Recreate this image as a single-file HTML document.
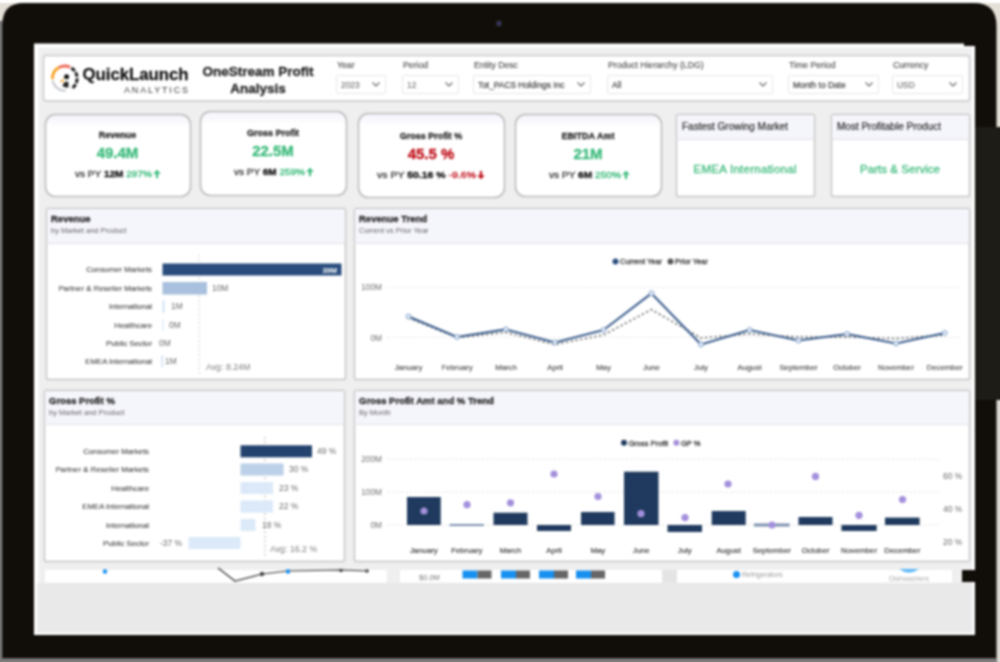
<!DOCTYPE html>
<html><head><meta charset="utf-8"><title>OneStream Profit Analysis</title>
<style>
html,body{margin:0;padding:0;background:#fff;}
body{width:1000px;height:662px;overflow:hidden;font-family:"Liberation Sans",sans-serif;}
svg{display:block;font-family:"Liberation Sans",sans-serif;}
text{font-family:"Liberation Sans",sans-serif;}
</style></head><body>
<svg width="1000" height="662" viewBox="0 0 1000 662">
<defs>
<filter id="b1" x="-5%" y="-5%" width="110%" height="110%"><feGaussianBlur stdDeviation="0.7"/></filter>
<filter id="b2" x="-5%" y="-5%" width="110%" height="110%"><feGaussianBlur stdDeviation="1.0"/></filter>
<linearGradient id="cg" x1="0" y1="0" x2="0" y2="1"><stop offset="0" stop-color="#f3f3fb"/><stop offset="0.16" stop-color="#ffffff"/><stop offset="1" stop-color="#ffffff"/></linearGradient>
</defs>

<rect x="0" y="0" width="1000" height="662" fill="#ffffff"/>
<g style="filter:blur(0.9px)">
<rect x="-5" y="3" width="45" height="40" fill="#e4e0d8"/>
<rect x="960" y="3" width="45" height="130" fill="#e4e0d8"/>
<rect x="996" y="395" width="10" height="270" fill="#dcd9d3"/>
<rect x="-5" y="21" width="8" height="645" fill="#7a7a7a"/>
<rect x="-5" y="658.5" width="1002" height="10" fill="#7c7c7c"/>
<path d="M2.3 658.5 L2.3 25 Q2.3 3 24 3 L974 3 Q996.5 3 996.5 26 L996.5 658.5 Z" fill="#110d08"/>
<rect x="975" y="127" width="30" height="273" fill="#1e1c17"/>
<circle cx="499" cy="23.5" r="3.2" fill="#2b2a2c"/><circle cx="499" cy="23.5" r="1.3" fill="#3b3fb0"/>
<rect x="34" y="43.5" width="941" height="591.5" fill="#ffffff"/>
<rect x="38.5" y="47.5" width="933.5" height="585" fill="#efefef"/>
<rect x="37" y="583" width="935.5" height="49.5" fill="#e9e9e9"/>
<rect x="962" y="570" width="14" height="12" fill="#110d08"/>
<rect x="964" y="40" width="13" height="6" fill="#110d08"/>
</g>
<g style="filter:blur(0.8px)">
<rect x="43.5" y="55.5" width="926" height="45.5" rx="3" fill="#ffffff" stroke="#c8c8c8" stroke-width="1.4"/>
<g transform="translate(64.8,78.3)">
<path d="M-12.3 0.8 A12.3 12.3 0 0 1 -5.6 -10.95" fill="none" stroke="#f7a325" stroke-width="2.9"/>
<path d="M-5.6 -10.95 A12.3 12.3 0 0 1 5.3 -11.1" fill="none" stroke="#ee6a5c" stroke-width="2.9"/>
<path d="M6.6 -10.4 A12.3 12.3 0 0 1 6.6 10.4" fill="none" stroke="#1c1c1c" stroke-width="3" stroke-dasharray="4.6 1.5"/>
<path d="M-12.2 2.2 A12.3 12.3 0 0 0 1 12.3" fill="none" stroke="#c4c8cc" stroke-width="2"/>
<circle cx="1.8" cy="-1.6" r="2.5" fill="#111"/><path d="M-2.5 7.5 Q0 2 3.5 3.5 L3.8 9 Q0 10 -2.5 7.5 Z" fill="#222"/><path d="M-5.5 3.5 L-0.8 0.2 L-1.5 3.8 Z" fill="#f7a325"/>
</g>
<text x="82.5" y="80.4" font-size="16.4" font-weight="bold" fill="#141414" stroke="#141414" stroke-width="0.3" textLength="106" lengthAdjust="spacingAndGlyphs">QuickLaunch</text>
<text x="124" y="92.6" font-size="9" fill="#3a3a3a" stroke="none" textLength="64" lengthAdjust="spacing">ANALYTICS</text>
<text x="258" y="76" font-size="13.5" font-weight="bold" fill="#2b2b2b" text-anchor="middle" stroke="#2b2b2b" stroke-width="0.35">OneStream Profit</text>
<text x="258" y="93" font-size="13.5" font-weight="bold" fill="#2b2b2b" text-anchor="middle" stroke="#2b2b2b" stroke-width="0.35">Analysis</text>
<text x="337" y="68" font-size="8.7" fill="#4a4a4a" stroke="#4a4a4a" stroke-width="0.12">Year</text>
<rect x="336.5" y="75.5" width="49" height="18" rx="1" fill="#fff" stroke="#e6e6e6"/>
<text x="341" y="87.7" font-size="8.4" fill="#777" stroke="#777" stroke-width="0.15">2023</text>
<path d="M372.5 82.5 L376 86 L379.5 82.5" fill="none" stroke="#666" stroke-width="1.1"/>
<text x="403" y="68" font-size="8.7" fill="#4a4a4a" stroke="#4a4a4a" stroke-width="0.12">Period</text>
<rect x="402.5" y="75.5" width="56" height="18" rx="1" fill="#fff" stroke="#e6e6e6"/>
<text x="407" y="87.7" font-size="8.4" fill="#777" stroke="#777" stroke-width="0.15">12</text>
<path d="M445.5 82.5 L449 86 L452.5 82.5" fill="none" stroke="#666" stroke-width="1.1"/>
<text x="474" y="68" font-size="8.7" fill="#4a4a4a" stroke="#4a4a4a" stroke-width="0.12">Entity Desc</text>
<rect x="473.5" y="75.5" width="117" height="18" rx="1" fill="#fff" stroke="#e6e6e6"/>
<text x="478" y="87.7" font-size="8.4" fill="#333" stroke="#333" stroke-width="0.15">Tot_PACS Holdings Inc</text>
<path d="M577.5 82.5 L581 86 L584.5 82.5" fill="none" stroke="#666" stroke-width="1.1"/>
<text x="608" y="68" font-size="8.7" fill="#4a4a4a" stroke="#4a4a4a" stroke-width="0.12">Product Hierarchy (LDG)</text>
<rect x="607.5" y="75.5" width="165" height="18" rx="1" fill="#fff" stroke="#e6e6e6"/>
<text x="612" y="87.7" font-size="8.4" fill="#333" stroke="#333" stroke-width="0.15">All</text>
<path d="M759.5 82.5 L763 86 L766.5 82.5" fill="none" stroke="#666" stroke-width="1.1"/>
<text x="789" y="68" font-size="8.7" fill="#4a4a4a" stroke="#4a4a4a" stroke-width="0.12">Time Period</text>
<rect x="788.5" y="75.5" width="90" height="18" rx="1" fill="#fff" stroke="#e6e6e6"/>
<text x="793" y="87.7" font-size="8.4" fill="#333" stroke="#333" stroke-width="0.15">Month to Date</text>
<path d="M865.5 82.5 L869 86 L872.5 82.5" fill="none" stroke="#666" stroke-width="1.1"/>
<text x="893" y="68" font-size="8.7" fill="#4a4a4a" stroke="#4a4a4a" stroke-width="0.12">Currency</text>
<rect x="892.5" y="75.5" width="70" height="18" rx="1" fill="#fff" stroke="#e6e6e6"/>
<text x="897" y="87.7" font-size="8.4" fill="#777" stroke="#777" stroke-width="0.15">USD</text>
<path d="M949.5 82.5 L953 86 L956.5 82.5" fill="none" stroke="#666" stroke-width="1.1"/>
<rect x="45.5" y="114.5" width="145" height="82" rx="10" fill="url(#cg)" stroke="#bcbcbc" stroke-width="1.6"/>
<text x="117.5" y="138" font-size="9" font-weight="bold" fill="#2e2e2e" text-anchor="middle" stroke="#2e2e2e" stroke-width="0.35">Revenue</text>
<text x="117.5" y="157.5" font-size="15" font-weight="bold" fill="#3dbb7d" text-anchor="middle" stroke="#3dbb7d" stroke-width="0.35">49.4M</text>
<text x="152" y="177" font-size="8.6" fill="#444" text-anchor="end" textLength="77" lengthAdjust="spacingAndGlyphs" stroke="#444" stroke-width="0.35">vs PY <tspan font-weight="bold" fill="#161616" stroke="#161616" stroke-width="0.35">12M</tspan> <tspan fill="#3dbb7d" stroke="#3dbb7d" stroke-width="0.35">297%</tspan></text>
<path d="M157 169.8 L160.8 173.8 L158.1 173.8 L158.1 178 L155.9 178 L155.9 173.8 L153.2 173.8 Z" fill="#3dbb7d"/>
<rect x="200.5" y="111.5" width="146" height="84" rx="10" fill="url(#cg)" stroke="#bcbcbc" stroke-width="1.6"/>
<text x="273.0" y="136" font-size="9" font-weight="bold" fill="#2e2e2e" text-anchor="middle" stroke="#2e2e2e" stroke-width="0.35">Gross Profit</text>
<text x="273.0" y="155.5" font-size="15" font-weight="bold" fill="#3dbb7d" text-anchor="middle" stroke="#3dbb7d" stroke-width="0.35">22.5M</text>
<text x="305" y="175" font-size="8.6" fill="#444" text-anchor="end" textLength="71" lengthAdjust="spacingAndGlyphs" stroke="#444" stroke-width="0.35">vs PY <tspan font-weight="bold" fill="#161616" stroke="#161616" stroke-width="0.35">6M</tspan> <tspan fill="#3dbb7d" stroke="#3dbb7d" stroke-width="0.35">259%</tspan></text>
<path d="M310 167.8 L313.8 171.8 L311.1 171.8 L311.1 176 L308.9 176 L308.9 171.8 L306.2 171.8 Z" fill="#3dbb7d"/>
<rect x="358.5" y="113.5" width="146" height="84" rx="10" fill="url(#cg)" stroke="#bcbcbc" stroke-width="1.6"/>
<text x="431.0" y="139" font-size="9" font-weight="bold" fill="#2e2e2e" text-anchor="middle" stroke="#2e2e2e" stroke-width="0.35">Gross Profit %</text>
<text x="431.0" y="158.5" font-size="15" font-weight="bold" fill="#c0121b" text-anchor="middle" stroke="#c0121b" stroke-width="0.35">45.5 %</text>
<text x="476" y="178" font-size="8.6" fill="#444" text-anchor="end" textLength="99" lengthAdjust="spacingAndGlyphs" stroke="#444" stroke-width="0.35">vs PY <tspan font-weight="bold" fill="#161616" stroke="#161616" stroke-width="0.35">50.16 %</tspan> <tspan fill="#c0121b" stroke="#c0121b" stroke-width="0.35">-9.6%</tspan></text>
<path d="M481 179.2 L484.8 175.2 L482.1 175.2 L482.1 171 L479.9 171 L479.9 175.2 L477.2 175.2 Z" fill="#c0121b"/>
<rect x="515.5" y="114.5" width="146" height="82" rx="10" fill="url(#cg)" stroke="#bcbcbc" stroke-width="1.6"/>
<text x="588.0" y="139" font-size="9" font-weight="bold" fill="#2e2e2e" text-anchor="middle" stroke="#2e2e2e" stroke-width="0.35">EBITDA Amt</text>
<text x="588.0" y="158.5" font-size="15" font-weight="bold" fill="#3dbb7d" text-anchor="middle" stroke="#3dbb7d" stroke-width="0.35">21M</text>
<text x="621" y="178" font-size="8.6" fill="#444" text-anchor="end" textLength="72" lengthAdjust="spacingAndGlyphs" stroke="#444" stroke-width="0.35">vs PY <tspan font-weight="bold" fill="#161616" stroke="#161616" stroke-width="0.35">6M</tspan> <tspan fill="#3dbb7d" stroke="#3dbb7d" stroke-width="0.35">250%</tspan></text>
<path d="M626 170.8 L629.8 174.8 L627.1 174.8 L627.1 179 L624.9 179 L624.9 174.8 L622.2 174.8 Z" fill="#3dbb7d"/>
<rect x="676.5" y="114.5" width="138" height="82" rx="2" fill="#fff" stroke="#c4c4c4" stroke-width="1.4"/>
<rect x="677" y="115" width="137" height="24" fill="#f5f5fc"/>
<line x1="676" y1="139.5" x2="814" y2="139.5" stroke="#e3e3e8"/>
<text x="682" y="130" font-size="10" fill="#2b2b2b" stroke="#2b2b2b" stroke-width="0.2">Fastest Growing Market</text>
<text x="745.0" y="172.5" font-size="11.5" fill="#3dbb7d" text-anchor="middle" stroke="#3dbb7d" stroke-width="0.3" textLength="103" lengthAdjust="spacing">EMEA International</text>
<rect x="831.5" y="114.5" width="138" height="82" rx="2" fill="#fff" stroke="#c4c4c4" stroke-width="1.4"/>
<rect x="832" y="115" width="137" height="24" fill="#f5f5fc"/>
<line x1="831" y1="139.5" x2="969" y2="139.5" stroke="#e3e3e8"/>
<text x="837" y="130" font-size="10" fill="#2b2b2b" stroke="#2b2b2b" stroke-width="0.2">Most Profitable Product</text>
<text x="900.0" y="172.5" font-size="11.5" fill="#3dbb7d" text-anchor="middle" stroke="#3dbb7d" stroke-width="0.3" textLength="80" lengthAdjust="spacing">Parts &amp; Service</text>
<rect x="46.5" y="208.5" width="299" height="171" rx="2" fill="#fff" stroke="#c4c4c4" stroke-width="1.4"/>
<rect x="47" y="209" width="298" height="34" fill="#f5f5fc"/>
<line x1="46" y1="243.5" x2="345" y2="243.5" stroke="#e1e1e8"/>
<text x="51" y="222" font-size="9.5" font-weight="bold" fill="#2b2b2b" stroke="#2b2b2b" stroke-width="0.35">Revenue</text>
<text x="51" y="233" font-size="7.5" fill="#666">by Market and Product</text>
<rect x="354.5" y="208.5" width="615" height="171" rx="2" fill="#fff" stroke="#c4c4c4" stroke-width="1.4"/>
<rect x="355" y="209" width="614" height="34" fill="#f5f5fc"/>
<line x1="354" y1="243.5" x2="969" y2="243.5" stroke="#e1e1e8"/>
<text x="359" y="222" font-size="9.5" font-weight="bold" fill="#2b2b2b" stroke="#2b2b2b" stroke-width="0.35">Revenue Trend</text>
<text x="359" y="233" font-size="7.5" fill="#666">Current vs Prior Year</text>
<rect x="44.5" y="390.5" width="300" height="171" rx="2" fill="#fff" stroke="#c4c4c4" stroke-width="1.4"/>
<rect x="45" y="391" width="299" height="33" fill="#f5f5fc"/>
<line x1="44" y1="424.5" x2="344" y2="424.5" stroke="#e1e1e8"/>
<text x="49" y="404" font-size="9.5" font-weight="bold" fill="#2b2b2b" stroke="#2b2b2b" stroke-width="0.35">Gross Profit %</text>
<text x="49" y="415" font-size="7.5" fill="#666">by Market and Product</text>
<rect x="354.5" y="390.5" width="615" height="171" rx="2" fill="#fff" stroke="#c4c4c4" stroke-width="1.4"/>
<rect x="355" y="391" width="614" height="33" fill="#f5f5fc"/>
<line x1="354" y1="424.5" x2="969" y2="424.5" stroke="#e1e1e8"/>
<text x="359" y="404" font-size="9.5" font-weight="bold" fill="#2b2b2b" stroke="#2b2b2b" stroke-width="0.35">Gross Profit Amt and % Trend</text>
<text x="359" y="415" font-size="7.5" fill="#666">By Month</text>
<line x1="199" y1="255" x2="199" y2="375" stroke="#bdbdbd" stroke-width="1" stroke-dasharray="1.5 3"/>
<text x="152" y="272.2" font-size="7.8" fill="#484848" stroke="#484848" stroke-width="0.12" text-anchor="end">Consumer Markets</text>
<text x="152" y="290.7" font-size="7.8" fill="#484848" stroke="#484848" stroke-width="0.12" text-anchor="end">Partner &amp; Reseller Markets</text>
<text x="152" y="309.2" font-size="7.8" fill="#484848" stroke="#484848" stroke-width="0.12" text-anchor="end">International</text>
<text x="152" y="327.7" font-size="7.8" fill="#484848" stroke="#484848" stroke-width="0.12" text-anchor="end">Healthcare</text>
<text x="152" y="345.7" font-size="7.8" fill="#484848" stroke="#484848" stroke-width="0.12" text-anchor="end">Public Sector</text>
<text x="152" y="363.7" font-size="7.8" fill="#484848" stroke="#484848" stroke-width="0.12" text-anchor="end">EMEA International</text>
<rect x="162.5" y="263.5" width="179" height="12" fill="#2a4d7e"/>
<text x="337" y="272.5" font-size="7.5" fill="#fff" text-anchor="end" font-weight="bold">39M</text>
<rect x="162.5" y="282" width="44.5" height="12.5" fill="#a9c0de"/>
<text x="212" y="291" font-size="8.4" fill="#6a6a6a">10M</text>
<rect x="162.5" y="300.5" width="2" height="12" fill="#cfe0f5"/>
<text x="171" y="309.3" font-size="8.4" fill="#6a6a6a">1M</text>
<rect x="162.5" y="319" width="1.2" height="12" fill="#dbe8f8"/>
<text x="169" y="327.8" font-size="8.4" fill="#6a6a6a">0M</text>
<text x="159" y="346" font-size="8.4" fill="#6a6a6a">0M</text>
<rect x="161.5" y="355" width="1.6" height="12" fill="#cfe0f5"/>
<text x="165" y="364" font-size="8.4" fill="#6a6a6a">1M</text>
<text x="206" y="370" font-size="8.8" fill="#808080">Avg: 8.24M</text>
<line x1="387" y1="287.5" x2="962" y2="287.5" stroke="#dadada" stroke-width="1" stroke-dasharray="1.5 3"/>
<line x1="387" y1="337.5" x2="962" y2="337.5" stroke="#dadada" stroke-width="1" stroke-dasharray="1.5 3"/>
<text x="382" y="290.3" font-size="8.3" fill="#727272" text-anchor="end">100M</text>
<text x="382" y="341.3" font-size="8.3" fill="#727272" text-anchor="end">0M</text>
<polyline fill="none" stroke="#5a5a5a" stroke-width="1.4" stroke-dasharray="2.2 2.6" points="408.5,318 457,337.5 506,332.5 555,344.5 603.5,335 651.5,309.6 701,338 749.6,334 798.5,337 847,337 896,338.5 944.6,335"/>
<polyline fill="none" stroke="#3e608f" stroke-width="2.1" stroke-linejoin="round" points="408.5,316.5 457,337 506,329.4 555,342.6 603.5,330 651.5,293.4 701,344.4 749.6,330 798.5,340.5 847,334 896,343.5 944.6,333"/>
<circle cx="408.5" cy="316.5" r="2.4" fill="#e9f0fa" stroke="#7e9cc6" stroke-width="1"/>
<circle cx="457" cy="337" r="2.4" fill="#e9f0fa" stroke="#7e9cc6" stroke-width="1"/>
<circle cx="506" cy="329.4" r="2.4" fill="#e9f0fa" stroke="#7e9cc6" stroke-width="1"/>
<circle cx="555" cy="342.6" r="2.4" fill="#e9f0fa" stroke="#7e9cc6" stroke-width="1"/>
<circle cx="603.5" cy="330" r="2.4" fill="#e9f0fa" stroke="#7e9cc6" stroke-width="1"/>
<circle cx="651.5" cy="293.4" r="2.4" fill="#e9f0fa" stroke="#7e9cc6" stroke-width="1"/>
<circle cx="701" cy="344.4" r="2.4" fill="#e9f0fa" stroke="#7e9cc6" stroke-width="1"/>
<circle cx="749.6" cy="330" r="2.4" fill="#e9f0fa" stroke="#7e9cc6" stroke-width="1"/>
<circle cx="798.5" cy="340.5" r="2.4" fill="#e9f0fa" stroke="#7e9cc6" stroke-width="1"/>
<circle cx="847" cy="334" r="2.4" fill="#e9f0fa" stroke="#7e9cc6" stroke-width="1"/>
<circle cx="896" cy="343.5" r="2.4" fill="#e9f0fa" stroke="#7e9cc6" stroke-width="1"/>
<circle cx="944.6" cy="333" r="2.4" fill="#e9f0fa" stroke="#7e9cc6" stroke-width="1"/>
<text x="408.5" y="370" font-size="7.8" fill="#4c4c4c" stroke-width="0.15" stroke="#4c4c4c" text-anchor="middle">January</text>
<text x="457" y="370" font-size="7.8" fill="#4c4c4c" stroke-width="0.15" stroke="#4c4c4c" text-anchor="middle">February</text>
<text x="506" y="370" font-size="7.8" fill="#4c4c4c" stroke-width="0.15" stroke="#4c4c4c" text-anchor="middle">March</text>
<text x="555" y="370" font-size="7.8" fill="#4c4c4c" stroke-width="0.15" stroke="#4c4c4c" text-anchor="middle">April</text>
<text x="603.5" y="370" font-size="7.8" fill="#4c4c4c" stroke-width="0.15" stroke="#4c4c4c" text-anchor="middle">May</text>
<text x="651.5" y="370" font-size="7.8" fill="#4c4c4c" stroke-width="0.15" stroke="#4c4c4c" text-anchor="middle">June</text>
<text x="701" y="370" font-size="7.8" fill="#4c4c4c" stroke-width="0.15" stroke="#4c4c4c" text-anchor="middle">July</text>
<text x="749.6" y="370" font-size="7.8" fill="#4c4c4c" stroke-width="0.15" stroke="#4c4c4c" text-anchor="middle">August</text>
<text x="798.5" y="370" font-size="7.8" fill="#4c4c4c" stroke-width="0.15" stroke="#4c4c4c" text-anchor="middle">September</text>
<text x="847" y="370" font-size="7.8" fill="#4c4c4c" stroke-width="0.15" stroke="#4c4c4c" text-anchor="middle">October</text>
<text x="896" y="370" font-size="7.8" fill="#4c4c4c" stroke-width="0.15" stroke="#4c4c4c" text-anchor="middle">November</text>
<text x="944.6" y="370" font-size="7.8" fill="#4c4c4c" stroke-width="0.15" stroke="#4c4c4c" text-anchor="middle">December</text>
<circle cx="615.5" cy="261.5" r="3" fill="#2a4d7e"/><text x="620" y="264.3" font-size="7.5" fill="#444" stroke="#444" stroke-width="0.35">Current Year</text>
<circle cx="670.5" cy="261.5" r="3" fill="#555"/><text x="675" y="264.3" font-size="7.5" fill="#444" stroke="#444" stroke-width="0.35">Prior Year</text>
<line x1="265" y1="437" x2="265" y2="557" stroke="#9a9a9a" stroke-width="1" stroke-dasharray="1.5 3"/>
<text x="149" y="454.0" font-size="7.8" fill="#484848" stroke="#484848" stroke-width="0.12" text-anchor="end">Consumer Markets</text>
<text x="149" y="472.2" font-size="7.8" fill="#484848" stroke="#484848" stroke-width="0.12" text-anchor="end">Partner &amp; Reseller Markets</text>
<text x="149" y="490.7" font-size="7.8" fill="#484848" stroke="#484848" stroke-width="0.12" text-anchor="end">Healthcare</text>
<text x="149" y="509.2" font-size="7.8" fill="#484848" stroke="#484848" stroke-width="0.12" text-anchor="end">EMEA International</text>
<text x="149" y="527.7" font-size="7.8" fill="#484848" stroke="#484848" stroke-width="0.12" text-anchor="end">International</text>
<text x="149" y="545.7" font-size="7.8" fill="#484848" stroke="#484848" stroke-width="0.12" text-anchor="end">Public Sector</text>
<rect x="240.5" y="445.3" width="71.5" height="12" fill="#24426e"/>
<text x="317" y="454.1" font-size="8.4" fill="#6a6a6a">49 %</text>
<rect x="240.5" y="463.5" width="43.0" height="12" fill="#bcd0e8"/>
<text x="289" y="472.3" font-size="8.4" fill="#6a6a6a">30 %</text>
<rect x="240.5" y="482" width="32.5" height="12" fill="#dce9f9"/>
<text x="279" y="490.8" font-size="8.4" fill="#6a6a6a">23 %</text>
<rect x="240.5" y="500.5" width="32.5" height="12" fill="#dce9f9"/>
<text x="279" y="509.3" font-size="8.4" fill="#6a6a6a">22 %</text>
<rect x="240.5" y="519" width="15.0" height="12" fill="#dce9f9"/>
<text x="262" y="527.8" font-size="8.4" fill="#6a6a6a">18 %</text>
<rect x="188.5" y="537" width="52.0" height="12" fill="#dce9f9"/>
<text x="160" y="545.8" font-size="8.4" fill="#6a6a6a">-37 %</text>
<text x="270" y="552" font-size="8.8" fill="#808080">Avg: 16.2 %</text>
<line x1="388" y1="459" x2="938" y2="459" stroke="#d2d2d2" stroke-width="1" stroke-dasharray="1.5 3"/>
<line x1="388" y1="492" x2="938" y2="492" stroke="#d2d2d2" stroke-width="1" stroke-dasharray="1.5 3"/>
<line x1="388" y1="525" x2="938" y2="525" stroke="#d2d2d2" stroke-width="1" stroke-dasharray="1.5 3"/>
<text x="382" y="461.8" font-size="8.3" fill="#727272" text-anchor="end">200M</text>
<text x="382" y="494.8" font-size="8.3" fill="#727272" text-anchor="end">100M</text>
<text x="382" y="527.8" font-size="8.3" fill="#727272" text-anchor="end">0M</text>
<text x="943" y="478.5" font-size="8.4" fill="#6a6a6a">60 %</text>
<text x="943" y="511.5" font-size="8.4" fill="#6a6a6a">40 %</text>
<text x="943" y="544.5" font-size="8.4" fill="#6a6a6a">20 %</text>
<rect x="407" y="497" width="33.69999999999999" height="28" fill="#1f3a5e"/>
<rect x="449.6" y="524" width="34.39999999999998" height="2" fill="#7d92ae"/>
<rect x="493.5" y="512.7" width="34.0" height="12.299999999999955" fill="#1f3a5e"/>
<rect x="537" y="525" width="34" height="6" fill="#1f3a5e"/>
<rect x="581" y="512" width="33.60000000000002" height="13" fill="#1f3a5e"/>
<rect x="624" y="471.7" width="34.5" height="53.30000000000001" fill="#1f3a5e"/>
<rect x="667.5" y="525" width="34.5" height="7" fill="#1f3a5e"/>
<rect x="711.7" y="511" width="34.0" height="14" fill="#1f3a5e"/>
<rect x="754" y="523.5" width="35.60000000000002" height="3.0" fill="#7d92ae"/>
<rect x="798.5" y="517" width="34.0" height="8" fill="#1f3a5e"/>
<rect x="841.4" y="525" width="35.30000000000007" height="6" fill="#1f3a5e"/>
<rect x="885" y="517.6" width="34.60000000000002" height="7.399999999999977" fill="#1f3a5e"/>
<circle cx="424" cy="511" r="3.6" fill="#a48fdc"/>
<circle cx="467" cy="504.7" r="3.6" fill="#a48fdc"/>
<circle cx="510.5" cy="502.8" r="3.6" fill="#a48fdc"/>
<circle cx="554" cy="474" r="3.6" fill="#a48fdc"/>
<circle cx="598" cy="496.5" r="3.6" fill="#a48fdc"/>
<circle cx="641" cy="513.7" r="3.6" fill="#a48fdc"/>
<circle cx="685" cy="517.6" r="3.6" fill="#a48fdc"/>
<circle cx="728" cy="484" r="3.6" fill="#a48fdc"/>
<circle cx="772" cy="525" r="3.6" fill="#a48fdc"/>
<circle cx="815.5" cy="476.4" r="3.6" fill="#a48fdc"/>
<circle cx="859" cy="515.3" r="3.6" fill="#a48fdc"/>
<circle cx="902.5" cy="499.5" r="3.6" fill="#a48fdc"/>
<text x="423.85" y="553" font-size="7.8" fill="#444" stroke-width="0.2" stroke="#444" text-anchor="middle">January</text>
<text x="466.8" y="553" font-size="7.8" fill="#444" stroke-width="0.2" stroke="#444" text-anchor="middle">February</text>
<text x="510.5" y="553" font-size="7.8" fill="#444" stroke-width="0.2" stroke="#444" text-anchor="middle">March</text>
<text x="554.0" y="553" font-size="7.8" fill="#444" stroke-width="0.2" stroke="#444" text-anchor="middle">April</text>
<text x="597.8" y="553" font-size="7.8" fill="#444" stroke-width="0.2" stroke="#444" text-anchor="middle">May</text>
<text x="641.25" y="553" font-size="7.8" fill="#444" stroke-width="0.2" stroke="#444" text-anchor="middle">June</text>
<text x="684.75" y="553" font-size="7.8" fill="#444" stroke-width="0.2" stroke="#444" text-anchor="middle">July</text>
<text x="728.7" y="553" font-size="7.8" fill="#444" stroke-width="0.2" stroke="#444" text-anchor="middle">August</text>
<text x="771.8" y="553" font-size="7.8" fill="#444" stroke-width="0.2" stroke="#444" text-anchor="middle">September</text>
<text x="815.5" y="553" font-size="7.8" fill="#444" stroke-width="0.2" stroke="#444" text-anchor="middle">October</text>
<text x="859.05" y="553" font-size="7.8" fill="#444" stroke-width="0.2" stroke="#444" text-anchor="middle">November</text>
<text x="902.3" y="553" font-size="7.8" fill="#444" stroke-width="0.2" stroke="#444" text-anchor="middle">December</text>
<circle cx="624" cy="442.7" r="3" fill="#1f3a5e"/><text x="628.5" y="445.5" font-size="7.5" fill="#444" stroke="#444" stroke-width="0.35">Gross Profit</text>
<circle cx="676.4" cy="442.7" r="3" fill="#a48fdc"/><text x="681" y="445.5" font-size="7.5" fill="#444" stroke="#444" stroke-width="0.35">GP %</text>
<rect x="45" y="570" width="342" height="12.5" fill="#fff"/>
<rect x="400" y="570" width="262" height="12.5" fill="#fff"/>
<rect x="677" y="570" width="275" height="12.5" fill="#fff"/>
<circle cx="105" cy="571.5" r="2.2" fill="#1890f0"/>
<polyline fill="none" stroke="#333" stroke-width="1.2" points="218,568 235,581 262,574 288,571 340,570 368,571"/>
<circle cx="262" cy="574" r="2.2" fill="#444"/><circle cx="288" cy="571.5" r="2.2" fill="#1890f0"/><circle cx="341" cy="570.5" r="1.8" fill="#444"/><circle cx="367" cy="571" r="1.8" fill="#444"/>
<text x="419" y="580" font-size="7.5" fill="#777">$0.0M</text>
<rect x="462.5" y="570.5" width="15" height="8" fill="#1890f0"/><rect x="477.5" y="570.5" width="14" height="8" fill="#666"/>
<rect x="501" y="570.5" width="15" height="8" fill="#1890f0"/><rect x="516" y="570.5" width="14" height="8" fill="#666"/>
<rect x="539" y="570.5" width="15" height="8" fill="#1890f0"/><rect x="554" y="570.5" width="14" height="8" fill="#666"/>
<rect x="576" y="570.5" width="15" height="8" fill="#1890f0"/><rect x="591" y="570.5" width="14" height="8" fill="#666"/>
<rect x="662" y="570" width="15" height="12.5" fill="#e4e4e4"/>
<circle cx="736.5" cy="574.5" r="3.5" fill="#1890f0"/><text x="742" y="577" font-size="7" fill="#999">Refrigerators</text>
<path d="M899 569 Q909 576 919 569 Z" fill="#5bb8f8"/>
<text x="909" y="581" font-size="7" fill="#aaa" text-anchor="middle">Dishwashers</text>
</g>
</svg></body></html>
